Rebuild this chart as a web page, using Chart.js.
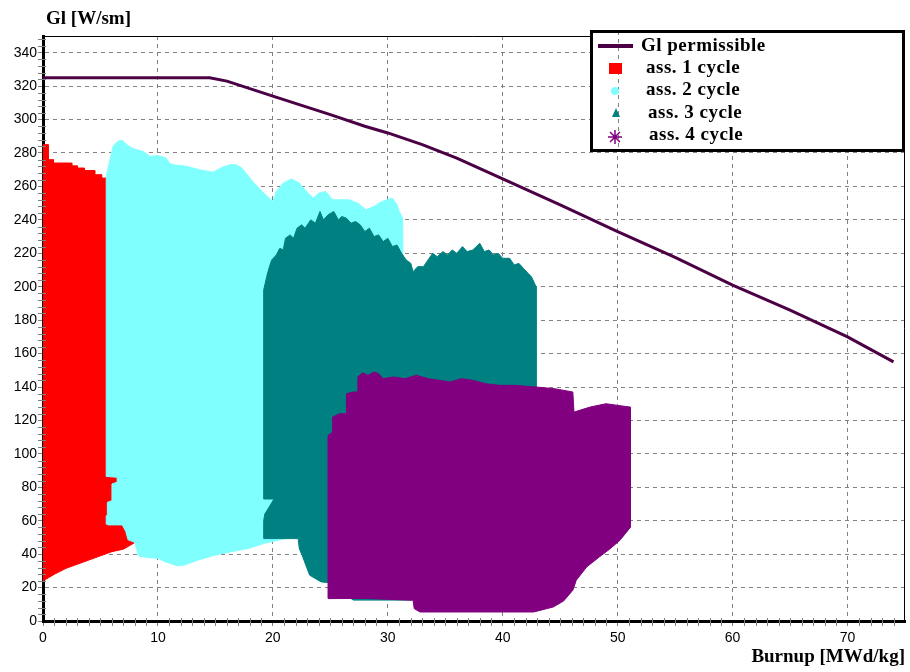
<!DOCTYPE html>
<html>
<head>
<meta charset="utf-8">
<title>Gl vs burnup</title>
<script src="https://cdn.jsdelivr.net/npm/chart.js@4.4.1/dist/chart.umd.min.js"></script>
<style>
  html, body { margin: 0; padding: 0; background: #fff; }
  #wrap { width: 910px; height: 672px; }
</style>
</head>
<body>
<div id="wrap"><canvas id="chart" width="910" height="672"></canvas></div>
<script>
// permissible linear heat rate, W/sm vs burnup
const glPermX = [0, 14.5, 16, 20, 25, 28, 30, 33, 36, 40, 45, 50, 55, 60, 65, 70, 74];
const glPermY = [325, 325, 323, 314, 303, 296, 292, 285, 277, 264.5, 249, 233, 217.5, 201, 186, 170, 155];

// outlines of the assembly clouds (burnup, Gl)
const ass1X = [0, 0, 0.45, 0.45, 0.9, 0.9, 2.5, 2.5, 3.0, 3.0, 3.6, 3.6, 4.5, 4.5, 5.1, 5.1, 8.3, 8.3, 8, 7, 6, 5, 4, 3, 2, 1, 0.5, 0];
const ass1Y = [24, 285, 285, 276, 276, 274, 274, 272.3, 272.3, 271, 271, 269.5, 269.5, 267, 267, 265, 265, 47.5, 47, 43, 41.5, 39, 36.5, 34, 31.5, 28, 26, 24];

const ass2X = [5.5, 5.5, 5.6, 5.6, 6.0, 6.0, 6.45, 6.45, 5.5, 5.5, 5.8, 6.1, 6.5, 6.9, 7.3, 7.6, 8.1, 8.7, 9.3, 10, 10.7, 11.0, 11.3, 12.5, 13.6, 14.8, 15.2, 15.6, 16.3, 16.8, 17.3, 17.6, 18.0, 18.5, 19.2, 20, 20.3, 20.9, 21.6, 22.3, 22.8, 23.5, 24, 24.6, 25.2, 26.6, 27.4, 28.1, 28.8, 29.5, 30.4, 30.8, 31.0, 31.3, 31.4, 25, 22.3, 20.8, 19.3, 17.9, 16.4, 15, 13.5, 12.3, 11.7, 10.6, 10, 9, 8.3, 8.0, 7.4, 7.2, 6.9, 5.7, 5.5];
const ass2Y = [58, 63, 63, 71, 72, 82, 83, 86, 86.5, 266, 275, 284, 287, 287.5, 285, 283.5, 282, 281, 278, 278.5, 277, 274, 273, 272, 270, 268.5, 270, 271.5, 273, 273, 271, 268.5, 265, 261, 256, 251, 257, 262, 264.5, 262, 258, 253, 256, 257, 252, 252, 250, 246, 248, 251, 253, 249, 245, 241, 60, 53, 50.5, 48.9, 46.5, 43.5, 41.5, 39.5, 36.5, 33.5, 33, 35.5, 37.5, 38, 39, 47, 48.6, 53.6, 57.5, 57.5, 58];

const ass3X = [19.2, 19.2, 19.5, 19.7, 19.9, 20.3, 20.6, 20.9, 21.1, 21.5, 21.8, 22.1, 22.5, 22.8, 23.3, 23.7, 24.1, 24.4, 24.8, 25.3, 25.7, 26.0, 26.4, 26.8, 27.2, 27.6, 28.0, 28.4, 28.8, 29.2, 29.6, 30.0, 30.4, 30.8, 31.2, 31.6, 32.0, 32.2, 32.6, 33.1, 33.5, 33.9, 34.3, 34.8, 35.2, 35.6, 36.0, 36.5, 36.9, 37.4, 38.0, 38.4, 38.8, 39.2, 39.6, 40.0, 40.6, 41.0, 41.4, 41.8, 42.2, 42.5, 42.9, 42.9, 32, 27, 24.8, 24.2, 23.2, 22.6, 22.3, 22.2, 19.2, 19.2, 19.3, 20.1, 19.2];
const ass3Y = [73, 198, 207, 212, 216, 219, 223, 222, 229, 231, 229, 235, 237, 235, 240, 238, 245, 240, 243, 245, 240, 242, 241, 238, 239, 237, 233, 235, 230, 231, 227, 229, 224, 225, 220, 216, 214, 209, 212, 212, 216, 220, 218, 221, 219, 222, 220, 224, 221, 222, 226, 221, 222, 219, 220, 217, 217, 213, 214, 211, 208, 206, 200, 60, 12.5, 12.5, 23, 23.4, 27.4, 38.3, 43.3, 49.3, 49.3, 60, 64, 73, 73];

const ass4X = [24.8, 24.8, 25.2, 25.2, 25.8, 26.4, 26.4, 27.0, 27.4, 27.4, 27.8, 28.3, 28.8, 29.2, 29.6, 30.5, 31.5, 32.5, 33.5, 34.5, 35.4, 36.4, 37.4, 38.5, 39.7, 41.0, 42.9, 44.5, 46.1, 46.2, 47.6, 49.0, 50.0, 51.1, 51.1, 50.2, 49.3, 48.4, 47.3, 46.4, 46.1, 45.3, 44.4, 42.7, 32.8, 32.3, 32.2, 28, 24.8];
const ass4Y = [13.4, 111, 113, 122, 124, 124, 136, 137, 137, 146, 148.5, 147, 149, 148, 145, 146, 145, 147, 145, 144, 143, 145, 144, 142, 141, 141, 140, 139, 137, 125, 128, 130, 129, 128, 56, 48.3, 43, 38.3, 32.3, 24.4, 18.4, 12, 8.4, 5.4, 5.4, 7.4, 12.4, 13.5, 13.4];

const seriesLabels = ["Gl permissible", "ass. 1 cycle", "ass. 2 cycle", "ass. 3 cycle", "ass. 4 cycle"];
const seriesColors = ["#4b0045", "#ff0000", "#80ffff", "#008080", "#800080"];

function toPoints(xs, ys) {
  return xs.map((x, i) => ({ x: x, y: ys[i] }));
}

function cloud(idx, xs, ys, order) {
  return {
    label: seriesLabels[idx],
    data: toPoints(xs, ys),
    borderColor: seriesColors[idx],
    backgroundColor: seriesColors[idx],
    borderWidth: 1,
    pointRadius: 0,
    tension: 0,
    fill: "shape",
    order: order
  };
}

const serif = "'Liberation Serif', 'Times New Roman', serif";

// top/right frame and the small ticks between the labelled ones
const frameAndTicks = {
  id: "frameAndTicks",
  afterDatasetsDraw(chart) {
    const { ctx, chartArea: a, scales } = chart;
    ctx.save();
    ctx.strokeStyle = "#000";
    ctx.lineWidth = 1;
    ctx.beginPath();
    ctx.moveTo(a.left, a.top + 0.5);
    ctx.lineTo(a.right - 0.5, a.top + 0.5);
    ctx.lineTo(a.right - 0.5, a.bottom);
    ctx.stroke();

    ctx.strokeStyle = "#808080";
    ctx.beginPath();
    for (let v = 4; v < 350; v += 4) {
      if (v % 20 === 0) continue;
      const y = Math.round(scales.y.getPixelForValue(v)) + 0.5;
      ctx.moveTo(a.left - 5, y);
      ctx.lineTo(a.left + 3, y);
    }
    for (let v = 1; v < 75; v++) {
      if (v % 10 === 0) continue;
      const x = Math.round(scales.x.getPixelForValue(v)) + 0.5;
      ctx.moveTo(x, a.bottom - 3);
      ctx.lineTo(x, a.bottom + 5);
    }
    ctx.stroke();
    ctx.restore();
  }
};

// boxed legend in the top right corner + y axis caption
const legendBox = {
  id: "legendBox",
  afterDraw(chart) {
    const ctx = chart.ctx;
    const ds = chart.data.datasets;
    const bx = 591, by = 31, bw = 313, bh = 120;
    ctx.save();
    ctx.fillStyle = "#fff";
    ctx.fillRect(bx, by, bw, bh);

    // the x=50 grid line shows through the legend
    const gx = Math.round(chart.scales.x.getPixelForValue(50)) + 0.5;
    ctx.strokeStyle = "#808080";
    ctx.lineWidth = 1;
    ctx.setLineDash([4, 4]);
    ctx.beginPath();
    ctx.moveTo(gx, by);
    ctx.lineTo(gx, by + bh);
    ctx.stroke();
    ctx.setLineDash([]);

    ctx.strokeStyle = "#000";
    ctx.lineWidth = 3;
    ctx.strokeRect(bx + 0.5, by + 0.5, bw - 1, bh - 1);

    const rowY = [46, 68, 90, 113, 135];
    const textX = [641, 646, 646, 648, 649];
    const cx = 615;
    ctx.font = "bold 19px " + serif;
    ctx.letterSpacing = "0.5px";
    ctx.textBaseline = "middle";
    ctx.textAlign = "left";
    ds.forEach((d, i) => {
      const y = rowY[i];
      ctx.fillStyle = d.borderColor;
      ctx.strokeStyle = d.borderColor;
      if (i === 0) {
        ctx.lineWidth = 4;
        ctx.beginPath();
        ctx.moveTo(598, y);
        ctx.lineTo(633, y);
        ctx.stroke();
      } else if (i === 1) {
        ctx.fillRect(cx - 6, y - 5, 13, 11);
      } else if (i === 2) {
        ctx.beginPath();
        ctx.arc(cx, y + 1, 4, 0, Math.PI * 2);
        ctx.fill();
      } else if (i === 3) {
        ctx.beginPath();
        ctx.moveTo(cx + 1, y - 5);
        ctx.lineTo(cx + 5, y + 4);
        ctx.lineTo(cx - 3, y + 4);
        ctx.closePath();
        ctx.fill();
      } else {
        ctx.lineWidth = 1.5;
        ctx.beginPath();
        for (let k = 0; k < 4; k++) {
          const ang = k * Math.PI / 4;
          ctx.moveTo(cx - 7 * Math.cos(ang), y + 2 - 7 * Math.sin(ang));
          ctx.lineTo(cx + 7 * Math.cos(ang), y + 2 + 7 * Math.sin(ang));
        }
        ctx.stroke();
      }
      ctx.fillStyle = "#000";
      ctx.fillText(d.label, textX[i], y);
    });

    ctx.letterSpacing = "0px";
    ctx.font = "bold 19px " + serif;
    ctx.fillText("Gl [W/sm]", 46, 19);
    ctx.restore();
  }
};

const ctx = document.getElementById("chart");

const glChart = new Chart(ctx, {
  type: "line",
  data: {
    datasets: [
      {
        label: seriesLabels[0],
        data: toPoints(glPermX, glPermY),
        borderColor: seriesColors[0],
        backgroundColor: seriesColors[0],
        borderWidth: 3,
        pointRadius: 0,
        tension: 0,
        fill: false,
        order: 0
      },
      cloud(1, ass1X, ass1Y, 4),
      cloud(2, ass2X, ass2Y, 3),
      cloud(3, ass3X, ass3Y, 2),
      cloud(4, ass4X, ass4Y, 1)
    ]
  },
  options: {
    responsive: false,
    animation: false,
    devicePixelRatio: 1,
    layout: { padding: { left: 0, right: 5, top: 36, bottom: 0 } },
    plugins: {
      legend: { display: false },
      tooltip: { enabled: false }
    },
    scales: {
      x: {
        type: "linear",
        min: 0,
        max: 75,
        afterFit: (s) => { s.height = 51; },
        ticks: {
          stepSize: 10,
          includeBounds: false,
          padding: 4,
          color: "#000",
          font: { family: "'Liberation Sans', Arial, sans-serif", size: 14 }
        },
        grid: { color: "#808080", tickColor: "#808080", tickLength: 5 },
        border: { color: "#000", width: 3, dash: [4, 4] },
        title: {
          display: true,
          text: "Burnup [MWd/kg]",
          align: "end",
          color: "#000",
          padding: { top: 0, bottom: 4 },
          font: { family: serif, size: 19, weight: "bold" }
        }
      },
      y: {
        min: 0,
        max: 350,
        afterFit: (s) => { s.width = 43; },
        ticks: {
          stepSize: 20,
          includeBounds: false,
          padding: 1,
          color: "#000",
          font: { family: "'Liberation Sans', Arial, sans-serif", size: 14 }
        },
        grid: { color: "#808080", tickColor: "#808080", tickLength: 5 },
        border: { color: "#000", width: 3, dash: [4, 4] }
      }
    }
  },
  plugins: [frameAndTicks, legendBox]
});
</script>
</body>
</html>
